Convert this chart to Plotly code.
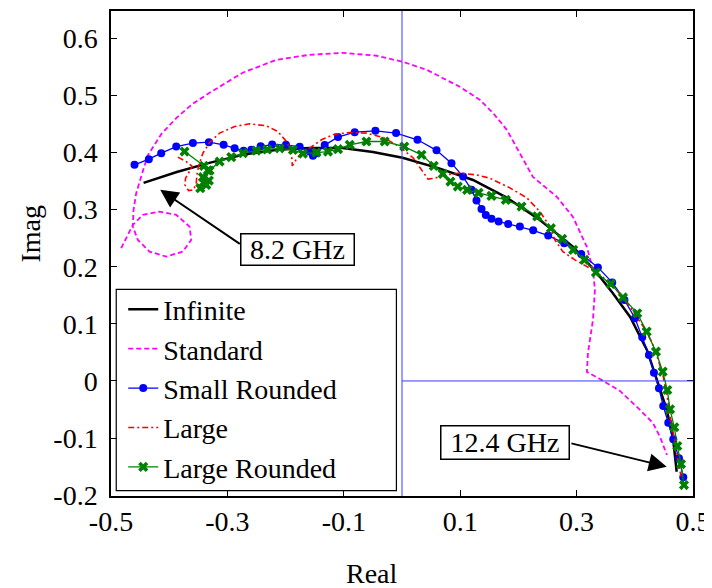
import plotly.graph_objects as go

# impedance loci (Real, Imag), 8.2 GHz -> 12.4 GHz
infinite_re = [-0.444, -0.387, -0.331, -0.274, -0.215, -0.159, -0.102, -0.050, 0.001, 0.065, 0.122,
               0.180, 0.237, 0.294, 0.335, 0.362, 0.392, 0.421, 0.438, 0.455, 0.466, 0.472]
infinite_im = [0.347, 0.366, 0.382, 0.396, 0.405, 0.408, 0.408, 0.401, 0.391, 0.372, 0.352,
               0.321, 0.282, 0.235, 0.189, 0.154, 0.112, 0.054, 0.002, -0.051, -0.103, -0.159]

standard_re = [-0.4825, -0.4625, -0.4453, -0.4166, -0.3879, -0.3650, -0.3621, -0.3765, -0.4051, -0.4338,
               -0.4539, -0.4625, -0.4613, -0.4567, -0.4481, -0.4372, -0.4132, -0.3874, -0.3598, -0.3306,
               -0.2739, -0.2154, -0.1586, -0.1019, -0.0434, 0.0013, 0.0426, 0.0993, 0.1337, 0.1561,
               0.1801, 0.2025, 0.2249, 0.2661, 0.2937, 0.3177, 0.3281, 0.3315, 0.3281, 0.3195,
               0.3177, 0.3401, 0.3745, 0.4089, 0.4312, 0.4433, 0.4553]
standard_im = [0.2326, 0.2734, 0.2909, 0.2967, 0.2909, 0.2704, 0.2471, 0.2266, 0.2178, 0.2266,
               0.2471, 0.2704, 0.2997, 0.3289, 0.3580, 0.3943, 0.4329, 0.4609, 0.4854, 0.5047,
               0.5398, 0.5626, 0.5713, 0.5748, 0.5696, 0.5590, 0.5450, 0.5152, 0.4925, 0.4697,
               0.4399, 0.3996, 0.3575, 0.3225, 0.2874, 0.2348, 0.1945, 0.1595, 0.1069, 0.0491,
               0.0158, 0.0035, -0.0175, -0.0508, -0.0736, -0.0981, -0.1297]

small_re = [-0.4596, -0.4350, -0.4137, -0.3879, -0.3593, -0.3318, -0.3065, -0.2876, -0.2721, -0.2589,
            -0.2429, -0.2231, -0.1994, -0.1758, -0.1586, -0.1530, -0.1471, -0.1328, -0.1100, -0.0813,
            -0.0457, -0.0102, 0.0266, 0.0593, 0.0850, 0.1050, 0.1194, 0.1280, 0.1366, 0.1440,
            0.1538, 0.1660, 0.1824, 0.2025, 0.2254, 0.2512, 0.2787, 0.3079, 0.3366, 0.3612,
            0.3822, 0.4003, 0.4128, 0.4243, 0.4329, 0.4415, 0.4489, 0.4575, 0.4661, 0.4759, 0.4833]
small_im = [0.3785, 0.3885, 0.3990, 0.4106, 0.4166, 0.4183, 0.4136, 0.4078, 0.4031, 0.4048,
            0.4110, 0.4141, 0.4136, 0.4101, 0.4018, 0.3943, 0.3990, 0.4131, 0.4271, 0.4358,
            0.4381, 0.4341, 0.4224, 0.4040, 0.3815, 0.3580, 0.3347, 0.3163, 0.3014, 0.2909,
            0.2839, 0.2792, 0.2751, 0.2704, 0.2638, 0.2546, 0.2413, 0.2222, 0.1989, 0.1726,
            0.1420, 0.1099, 0.0766, 0.0456, 0.0145, -0.0128, -0.0438, -0.0731, -0.1022, -0.1355, -0.1688]

large_re = [-0.3851, -0.3707, -0.3604, -0.3650, -0.3719, -0.3731, -0.3667, -0.3581, -0.3535, -0.3524,
            -0.3490, -0.3421, -0.3306, -0.3134, -0.2876, -0.2618, -0.2331, -0.2132, -0.1987, -0.1901,
            -0.1884, -0.1884, -0.1815, -0.1729, -0.1586, -0.1385, -0.1156, -0.0898, -0.0611, -0.0326,
            -0.0039, 0.0190, 0.0335, 0.0448, 0.0563, 0.0735, 0.0993, 0.1280, 0.1509, 0.1853,
            0.2145, 0.2369, 0.2541, 0.2627, 0.2764, 0.2971, 0.3229, 0.3516, 0.3688, 0.3917,
            0.4145, 0.4290, 0.4403, 0.4489, 0.4558, 0.4605, 0.4673, 0.4730, 0.4794]
large_im = [0.3920, 0.3843, 0.3756, 0.3668, 0.3552, 0.3435, 0.3335, 0.3347, 0.3465, 0.3610,
            0.3785, 0.3990, 0.4176, 0.4341, 0.4457, 0.4504, 0.4469, 0.4369, 0.4194, 0.4018,
            0.3873, 0.3768, 0.3885, 0.3990, 0.4078, 0.4224, 0.4323, 0.4351, 0.4341, 0.4267,
            0.4101, 0.3908, 0.3698, 0.3535, 0.3552, 0.3610, 0.3640, 0.3610, 0.3552, 0.3382,
            0.3207, 0.2967, 0.2704, 0.2471, 0.2266, 0.2121, 0.1975, 0.1770, 0.1595, 0.1302,
            0.0952, 0.0689, 0.0368, 0.0075, -0.0275, -0.0626, -0.0976, -0.1327, -0.1677]

large_rnd_re = [-0.3736, -0.3404, -0.3335, -0.3421, -0.3318, -0.3363, -0.3466, -0.3409, -0.3306, -0.3134,
                -0.2933, -0.2733, -0.2503, -0.2317, -0.2102, -0.1874, -0.1702, -0.1471, -0.1272, -0.1100,
                -0.0898, -0.0611, -0.0297, 0.0039, 0.0335, 0.0546, 0.0701, 0.0833, 0.0959, 0.1119,
                0.1316, 0.1538, 0.1784, 0.2054, 0.2323, 0.2558, 0.2752, 0.2942, 0.3134, 0.3332,
                0.3585, 0.3796, 0.4042, 0.4204, 0.4364, 0.4479, 0.4558, 0.4605, 0.4679, 0.4730,
                0.4794, 0.4845]
large_rnd_im = [0.4018, 0.3768, 0.3689, 0.3570, 0.3510, 0.3435, 0.3377, 0.3475, 0.3686, 0.3843,
                0.3920, 0.3990, 0.4036, 0.4055, 0.4075, 0.4048, 0.3983, 0.4001, 0.4018, 0.4061,
                0.4136, 0.4194, 0.4194, 0.4106, 0.3961, 0.3768, 0.3628, 0.3493, 0.3405, 0.3347,
                0.3295, 0.3242, 0.3172, 0.3055, 0.2883, 0.2676, 0.2489, 0.2296, 0.2121, 0.1901,
                0.1700, 0.1463, 0.1186, 0.0864, 0.0513, 0.0163, -0.0158, -0.0496, -0.0811, -0.1139,
                -0.1455, -0.1823]

x_ticks = [-0.5, -0.3, -0.1, 0.1, 0.3, 0.5]
y_ticks = [-0.2, -0.1, 0, 0.1, 0.2, 0.3, 0.4, 0.5, 0.6]

FONT = "Liberation Serif"
f28 = dict(family=FONT, size=28, color="black")

fig = go.Figure()
fig.add_trace(go.Scatter(x=infinite_re, y=infinite_im, name="Infinite", mode="lines",
                         line=dict(color="black", width=2.5)))
fig.add_trace(go.Scatter(x=standard_re, y=standard_im, name="Standard", mode="lines",
                         line=dict(color="#ff00ff", width=1.8, dash="5px,3px")))
fig.add_trace(go.Scatter(x=small_re, y=small_im, name="Small Rounded", mode="lines+markers",
                         line=dict(color="#0000ff", width=1.3),
                         marker=dict(symbol="circle", size=8, color="#0000ff")))
fig.add_trace(go.Scatter(x=large_re, y=large_im, name="Large", mode="lines",
                         line=dict(color="#ff0000", width=1.6, dash="6px,3px,2px,3px")))
fig.add_trace(go.Scatter(x=large_rnd_re, y=large_rnd_im, name="Large Rounded", mode="lines+markers",
                         line=dict(color="#008000", width=1.3),
                         marker=dict(symbol="x", size=9, color="#008000")))

# reference lines through the origin
fig.add_shape(type="line", xref="x", yref="paper", x0=0, x1=0, y0=0, y1=1,
              line=dict(color="#3a3aff", width=1))
fig.add_shape(type="line", xref="x", yref="y", x0=0, x1=0.5, y0=0, y1=0,
              line=dict(color="#3a3aff", width=1))
# legend frame
fig.add_shape(type="rect", xref="paper", yref="paper", x0=0.009, x1=0.4904, y0=0.011, y1=0.426,
              line=dict(color="black", width=1.2), fillcolor="white", layer="below")

# frequency labels with arrows
fig.add_annotation(x=-0.4154, y=0.3347, ax=-0.2761, ay=0.2383, axref="x", ayref="y", text="",
                   showarrow=True, arrowhead=2, arrowsize=1.8, arrowwidth=2, arrowcolor="black")
fig.add_annotation(x=0.4548, y=-0.1502, ax=0.2885, ay=-0.1087, axref="x", ayref="y", text="",
                   showarrow=True, arrowhead=2, arrowsize=1.8, arrowwidth=2, arrowcolor="black")
fig.add_annotation(x=-0.1793, y=0.2296, text="8.2 GHz", showarrow=False, bgcolor="white",
                   bordercolor="black", borderwidth=1.5, borderpad=0, width=112, height=30, font=f28)
fig.add_annotation(x=0.1776, y=-0.1078, text="12.4 GHz", showarrow=False, bgcolor="white",
                   bordercolor="black", borderwidth=1.5, borderpad=0, width=127, height=32, font=f28)

# axis titles
fig.add_annotation(x=0.448, y=-0.159, xref="paper", yref="paper", text="Real", showarrow=False,
                   xanchor="center", yanchor="middle", font=f28)
fig.add_annotation(x=-0.1384, y=0.542, xref="paper", yref="paper", text="Imag", showarrow=False,
                   xanchor="center", yanchor="middle", textangle=-90, font=f28)

axis_style = dict(showline=True, linecolor="black", linewidth=1.5, mirror="ticks", ticks="inside",
                  ticklen=6, tickcolor="black", showgrid=False, zeroline=False, automargin=False,
                  tickfont=f28)
fig.update_xaxes(range=[-0.5, 0.5], tickvals=x_ticks, ticktext=[f"{v:g}" for v in x_ticks], **axis_style)
fig.update_yaxes(range=[-0.2015, 0.648], tickvals=y_ticks, ticktext=[f"{v:g}" for v in y_ticks],
                 ticklabelstandoff=6, **axis_style)

# the page body adds an 8px margin, so the figure is 8px smaller than the window
fig.update_layout(width=704, height=580, margin=dict(l=103, r=19, t=3, b=92),
                  plot_bgcolor="white", paper_bgcolor="white",
                  font=f28,
                  showlegend=True,
                  legend=dict(x=0.021, y=0.436, xanchor="left", yanchor="top",
                              bgcolor="rgba(0,0,0,0)", borderwidth=0, itemwidth=30,
                              font=f28))
fig.write_html("out.html")
